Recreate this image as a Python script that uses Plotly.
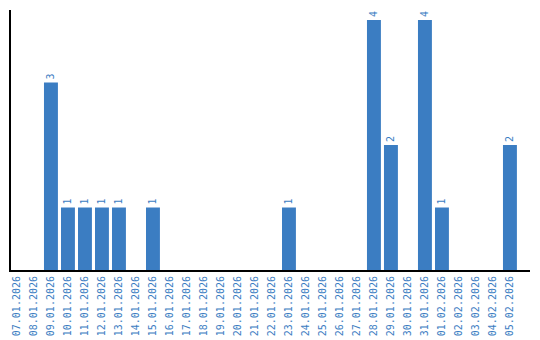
import plotly.graph_objects as go

dates = ["07.01.2026", "08.01.2026", "09.01.2026", "10.01.2026", "11.01.2026", "12.01.2026",
         "13.01.2026", "14.01.2026", "15.01.2026", "16.01.2026", "17.01.2026", "18.01.2026",
         "19.01.2026", "20.01.2026", "21.01.2026", "22.01.2026", "23.01.2026", "24.01.2026",
         "25.01.2026", "26.01.2026", "27.01.2026", "28.01.2026", "29.01.2026", "30.01.2026",
         "31.01.2026", "01.02.2026", "02.02.2026", "03.02.2026", "04.02.2026", "05.02.2026"]
values = [0, 0, 3, 1, 1, 1, 1, 0, 1, 0, 0, 0, 0, 0, 0, 0, 1, 0, 0, 0, 0, 4, 2, 0, 4, 1, 0, 0, 0, 2]

blue = "#3b7dc2"
labels = [str(v) if v else "" for v in values]

fig = go.Figure(go.Bar(
    x=dates, y=values, marker_color=blue, marker_line_width=0,
    text=labels, textposition="outside", textangle=-90,
    textfont=dict(color=blue, size=10, family="DejaVu Sans Mono"),
    cliponaxis=False,
))
fig.update_layout(
    width=540, height=340,
    margin=dict(l=11, r=10, t=10, b=70, autoexpand=False),
    plot_bgcolor="white", paper_bgcolor="white",
    bargap=0.18, showlegend=False,
    font=dict(family="DejaVu Sans Mono"),
)
fig.update_xaxes(
    type="category", range=[-0.35, 30.18], showline=True, linecolor="black", linewidth=2,
    showgrid=False, ticks="", tickangle=-90, automargin=False,
    tickfont=dict(color=blue, size=10, family="DejaVu Sans Mono"),
)
fig.update_yaxes(
    range=[0, 4.16], showline=True, linecolor="black", linewidth=2,
    showgrid=False, showticklabels=False, ticks="", zeroline=False, automargin=False,
)
fig.write_html("out.html")
